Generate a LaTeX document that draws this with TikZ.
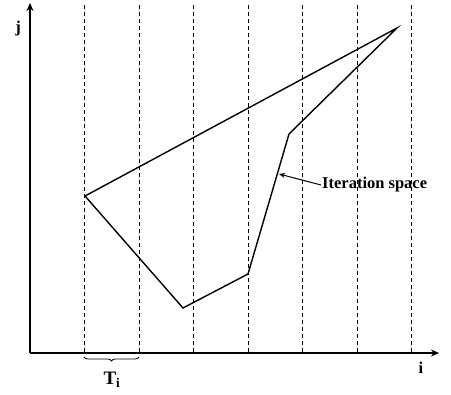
\documentclass[tikz,border=0pt]{standalone}
\usepackage{fontspec}
\setmainfont{Liberation Serif}
\usetikzlibrary{arrows.meta,decorations.pathreplacing}
\begin{document}
\begin{tikzpicture}[x=1pt,y=-1pt,
  axis/.style={line width=1.4pt,-{Stealth[length=8pt,width=7pt]}},
  grid/.style={line width=0.6pt,dash pattern=on 4pt off 3pt},
  poly/.style={line width=1.4pt,line join=miter,miter limit=20},
  lbl/.style={font=\bfseries\fontsize{16.5}{19}\selectfont,inner sep=1pt}]
\useasboundingbox (0,0) rectangle (451,395);
% grid lines
\foreach \x [count=\k] in {84,139,193,248,302,357,411}{
  \coordinate (gt\k) at (\x,5);
  \coordinate (gb\k) at (\x,353);
  \draw[grid] (gt\k) -- (gb\k);
}
% axes
\coordinate (o) at (30,353);
\coordinate (jt) at (30,3);
\coordinate (ie) at (439,353);
\draw[axis] (o) -- (jt);
\draw[axis] (o) -- (ie);
\node[lbl] (jl) at (18,29) {j};
\node[lbl] (il) at (421,368) {i};
% polygon
\coordinate (p1) at (85,196);
\coordinate (p2) at (397,28);
\coordinate (p3) at (289,134);
\coordinate (p4) at (248,274);
\coordinate (p5) at (183,308);
\draw[poly] (p1) -- (p2) -- (p3) -- (p4) -- (p5) -- cycle;
% label
\node[lbl,anchor=west] (it) at (321,185) {Iteration space};
\coordinate (ia) at (279,174);
\draw[line width=1pt,-{Stealth[length=6pt,width=5pt]}] (it.west) -- (ia);
% brace
\coordinate (b1) at (84,357);
\coordinate (b2) at (139,357);
\draw[line width=0.8pt,decorate,decoration={brace,mirror,amplitude=4pt}] (b1) -- (b2);
\node[lbl,font=\bfseries\fontsize{19}{22}\selectfont] (ti) at (112,380) {T$_{\mathbf{i}}$};
\end{tikzpicture}
\end{document}
